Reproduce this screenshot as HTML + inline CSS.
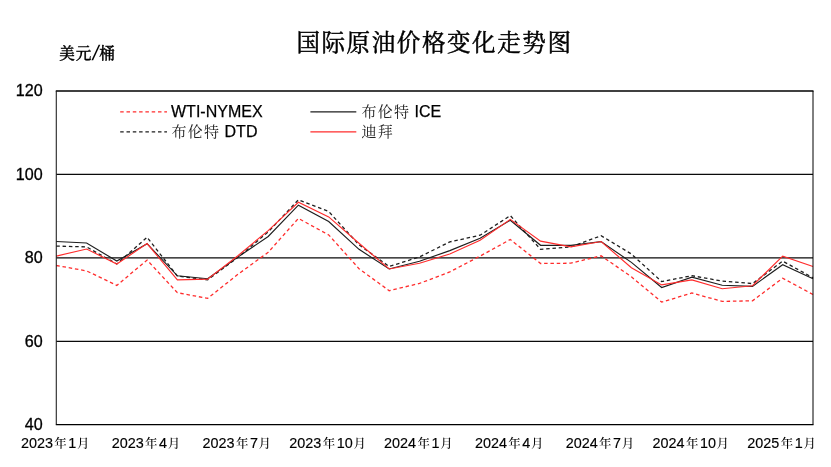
<!DOCTYPE html>
<html lang="zh-CN">
<head>
<meta charset="utf-8">
<title>国际原油价格变化走势图</title>
<style>
html,body{margin:0;padding:0;background:#fff;}
body{width:831px;height:467px;overflow:hidden;}
svg{display:block;}
.num{font-family:"Liberation Sans","Noto Serif CJK SC",sans-serif;fill:#000;stroke:#000;stroke-width:0.3px;}
.kai{font-family:"Liberation Sans","Noto Serif CJK SC",serif;fill:#000;}
.cj{font-size:15px;letter-spacing:1.2px;fill:#222;stroke:none;}
.lg{stroke:#000;stroke-width:0.25px;}
.xc{font-size:12.4px;fill:#000;stroke:none;font-weight:500;}
.xl{stroke-width:0.15px;}
</style>
</head>
<body>
<svg width="831" height="467" viewBox="0 0 831 467">
<rect x="0" y="0" width="831" height="467" fill="#fff"/>
<text class="kai" x="296.4" y="50.6" font-size="23.5" letter-spacing="1.6" font-weight="400" stroke="#000" stroke-width="0.5">国际原油价格变化走势图</text>
<text class="kai" x="59.3" y="58.6" font-size="15.6" font-weight="500" stroke="#000" stroke-width="0.35"><tspan letter-spacing="0.9">美元</tspan></text>
<text class="kai" transform="translate(91.6,60.1) skewX(-11)" font-size="21">/</text>
<text class="kai" x="99.3" y="58.6" font-size="15.6" font-weight="500" stroke="#000" stroke-width="0.35">桶</text>
<line x1="56.3" y1="174.3" x2="813.0" y2="174.3" stroke="#0a0a0a" stroke-width="1.3"/>
<line x1="56.3" y1="257.8" x2="813.0" y2="257.8" stroke="#0a0a0a" stroke-width="1.3"/>
<line x1="56.3" y1="341.3" x2="813.0" y2="341.3" stroke="#0a0a0a" stroke-width="1.3"/>
<polyline fill="none" stroke="#ff2c2c" stroke-width="1.3" stroke-dasharray="3.5 2.8" points="56.3,265.5 86.6,270.9 116.8,285.4 147.1,260.1 177.4,292.7 207.6,298.4 237.9,274.3 268.2,252.3 298.4,218.4 328.7,234.9 359.0,268.7 389.2,290.7 419.5,283.4 449.8,271.9 480.1,256.1 510.3,239.5 540.6,263.5 570.9,263.2 601.1,255.8 631.4,276.8 661.7,302.1 691.9,293.0 722.2,301.4 752.5,300.8 782.7,278.2 813.0,294.5"/>
<polyline fill="none" stroke="#1e1e1e" stroke-width="1.3" stroke-dasharray="3.5 2.8" points="56.3,246.1 86.6,246.9 116.8,264.0 147.1,237.3 177.4,276.1 207.6,279.9 237.9,257.4 268.2,231.9 298.4,199.8 328.7,211.5 359.0,244.8 389.2,266.5 419.5,256.9 449.8,241.9 480.1,235.2 510.3,215.6 540.6,249.4 570.9,246.9 601.1,235.7 631.4,254.0 661.7,281.6 691.9,275.7 722.2,281.1 752.5,283.6 782.7,261.1 813.0,277.8"/>
<polyline fill="none" stroke="#1e1e1e" stroke-width="1.15" points="56.3,241.5 86.6,243.0 116.8,261.1 147.1,243.7 177.4,275.8 207.6,278.7 237.9,257.1 268.2,236.5 298.4,205.2 328.7,221.5 359.0,249.3 389.2,269.0 419.5,261.3 449.8,250.6 480.1,238.3 510.3,220.2 540.6,245.3 570.9,245.3 601.1,241.6 631.4,262.4 661.7,287.5 691.9,277.1 722.2,285.3 752.5,286.4 782.7,264.7 813.0,278.8"/>
<polyline fill="none" stroke="#ff2c2c" stroke-width="1.15" points="56.3,256.1 86.6,249.0 116.8,264.0 147.1,243.6 177.4,279.9 207.6,279.1 237.9,255.7 268.2,230.6 298.4,202.3 328.7,216.9 359.0,243.2 389.2,269.0 419.5,263.2 449.8,254.0 480.1,240.2 510.3,219.4 540.6,241.1 570.9,246.9 601.1,241.5 631.4,267.8 661.7,284.9 691.9,279.9 722.2,288.7 752.5,285.7 782.7,256.1 813.0,266.5"/>
<line x1="55.8" y1="91" x2="813.5" y2="91" stroke="#000" stroke-width="1.5"/>
<line x1="55.8" y1="424.6" x2="813.5" y2="424.6" stroke="#000" stroke-width="1.15"/>
<line x1="56.28" y1="91" x2="56.28" y2="424.6" stroke="#1a1a1a" stroke-width="1.05"/>
<line x1="813" y1="91" x2="813" y2="424.6" stroke="#000" stroke-width="1"/>
<text class="num" x="42.6" y="96.2" text-anchor="end" font-size="16.1">120</text>
<text class="num" x="42.6" y="179.7" text-anchor="end" font-size="16.1">100</text>
<text class="num" x="42.6" y="263.2" text-anchor="end" font-size="16.1">80</text>
<text class="num" x="42.6" y="346.7" text-anchor="end" font-size="16.1">60</text>
<text class="num" x="42.6" y="430.2" text-anchor="end" font-size="16.1">40</text>
<text class="num xl" x="20.9" y="447.8" font-size="14.4">2023<tspan class="xc" dx="1.4">年</tspan><tspan dx="1.6">1</tspan><tspan class="xc" dx="0.7">月</tspan></text>
<text class="num xl" x="111.7" y="447.8" font-size="14.4">2023<tspan class="xc" dx="1.4">年</tspan><tspan dx="1.6">4</tspan><tspan class="xc" dx="0.7">月</tspan></text>
<text class="num xl" x="202.5" y="447.8" font-size="14.4">2023<tspan class="xc" dx="1.4">年</tspan><tspan dx="1.6">7</tspan><tspan class="xc" dx="0.7">月</tspan></text>
<text class="num xl" x="289.3" y="447.8" font-size="14.4">2023<tspan class="xc" dx="1.4">年</tspan><tspan dx="1.6">10</tspan><tspan class="xc" dx="0.7">月</tspan></text>
<text class="num xl" x="384.1" y="447.8" font-size="14.4">2024<tspan class="xc" dx="1.4">年</tspan><tspan dx="1.6">1</tspan><tspan class="xc" dx="0.7">月</tspan></text>
<text class="num xl" x="474.9" y="447.8" font-size="14.4">2024<tspan class="xc" dx="1.4">年</tspan><tspan dx="1.6">4</tspan><tspan class="xc" dx="0.7">月</tspan></text>
<text class="num xl" x="565.7" y="447.8" font-size="14.4">2024<tspan class="xc" dx="1.4">年</tspan><tspan dx="1.6">7</tspan><tspan class="xc" dx="0.7">月</tspan></text>
<text class="num xl" x="652.5" y="447.8" font-size="14.4">2024<tspan class="xc" dx="1.4">年</tspan><tspan dx="1.6">10</tspan><tspan class="xc" dx="0.7">月</tspan></text>
<text class="num xl" x="747.3" y="447.8" font-size="14.4">2025<tspan class="xc" dx="1.4">年</tspan><tspan dx="1.6">1</tspan><tspan class="xc" dx="0.7">月</tspan></text>
<line x1="120.2" y1="111.85" x2="167" y2="111.85" stroke="#ff2c2c" stroke-width="1.3" stroke-dasharray="3.5 2.8"/>
<text class="kai lg" x="171" y="116.7" font-size="16">WTI-NYMEX</text>
<line x1="120.2" y1="131.8" x2="167" y2="131.8" stroke="#1e1e1e" stroke-width="1.3" stroke-dasharray="3.5 2.8"/>
<text class="kai lg" x="171.5" y="137.4" font-size="16"><tspan class="cj">布伦特</tspan> DTD</text>
<line x1="310.4" y1="111.85" x2="356.3" y2="111.85" stroke="#1e1e1e" stroke-width="1.15"/>
<text class="kai lg" x="361.5" y="116.7" font-size="16"><tspan class="cj">布伦特</tspan> ICE</text>
<line x1="310.4" y1="131.8" x2="356.3" y2="131.8" stroke="#ff2c2c" stroke-width="1.15"/>
<text class="kai lg" x="361.5" y="137.4" font-size="16"><tspan class="cj">迪拜</tspan></text>
</svg>
</body>
</html>
